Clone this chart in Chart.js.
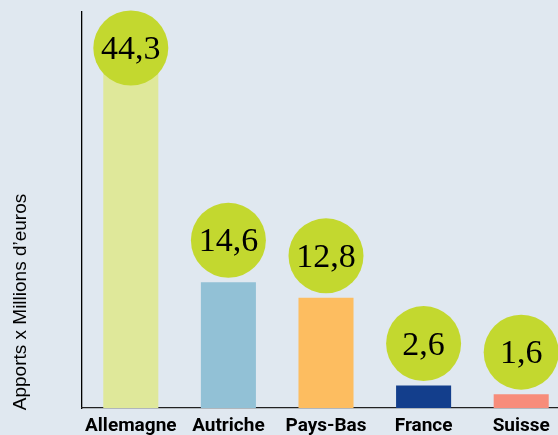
<!DOCTYPE html>
<html><head><meta charset="utf-8">
<script src="https://cdn.jsdelivr.net/npm/chart.js@4/dist/chart.umd.min.js"></script>
<style>
html,body{margin:0;padding:0;background:#e0e8f0;overflow:hidden;width:558px;height:435px;}
#wrap{position:absolute;left:0;top:0;width:570px;height:435px;}
</style></head><body>
<div id="wrap"><canvas id="c" width="570" height="435"></canvas></div>
<script>
const categories = ['Allemagne', 'Autriche', 'Pays-Bas', 'France', 'Suisse'];
const values = [44.3, 14.6, 12.8, 2.6, 1.6];
const valueLabels = ['44,3', '14,6', '12,8', '2,6', '1,6'];
const yTitle = 'Apports x Millions d\u2019euros';

const barColors = ['#dfe89a', '#92c1d6', '#fdbd60', '#133e8c', '#f78c7a'];

const bubbles = {
  id: 'bubbles',
  afterDatasetsDraw(chart) {
    const ctx = chart.ctx;
    const meta = chart.getDatasetMeta(0);
    const top = chart.chartArea.top;
    ctx.save();
    meta.data.forEach((bar, i) => {
      const r = 37.5;
      const cy = Math.max(bar.y - 42, top + 36);
      ctx.beginPath();
      ctx.arc(bar.x, cy, r, 0, Math.PI * 2);
      ctx.fillStyle = '#c3d82f';
      ctx.fill();
      ctx.fillStyle = '#000';
      ctx.font = '34px "Liberation Serif", serif';
      ctx.textAlign = 'center';
      ctx.textBaseline = 'middle';
      ctx.fillText(valueLabels[i], bar.x, cy + 2);
    });
    ctx.restore();
  },
  afterDraw(chart) {
    const ctx = chart.ctx;
    ctx.save();
    ctx.translate(21, 302);
    ctx.rotate(-Math.PI / 2);
    ctx.fillStyle = '#000';
    ctx.font = '19px "Liberation Sans", Arial, sans-serif';
    ctx.textAlign = 'center';
    ctx.textBaseline = 'middle';
    ctx.fillText(yTitle, 0, 0);
    ctx.restore();
  }
};

new Chart(document.getElementById('c'), {
  type: 'bar',
  data: {
    labels: categories,
    datasets: [{
      data: values,
      backgroundColor: barColors,
      borderWidth: 0,
      categoryPercentage: 1,
      barPercentage: 0.564
    }]
  },
  options: {
    responsive: false,
    animation: false,
    events: [],
    layout: { padding: { left: 82, top: 12, right: 0, bottom: 0 } },
    plugins: { legend: { display: false }, tooltip: { enabled: false } },
    scales: {
      y: {
        min: 0, max: 46,
        grid: { display: false, drawTicks: false },
        border: { display: true, color: '#000', width: 1.3 },
        ticks: { display: false },
        afterFit: s => { s.width = 0; }
      },
      x: {
        grid: { display: false, drawTicks: false },
        border: { display: true, color: '#222', width: 1.3 },
        ticks: {
          color: '#000',
          padding: 7,
          maxRotation: 0,
          autoSkip: false,
          font: { family: 'Roboto, sans-serif', size: 19, weight: 'bold' }
        },
        afterFit: s => { s.height = 27; }
      }
    }
  },
  plugins: [bubbles]
});
</script></body></html>
